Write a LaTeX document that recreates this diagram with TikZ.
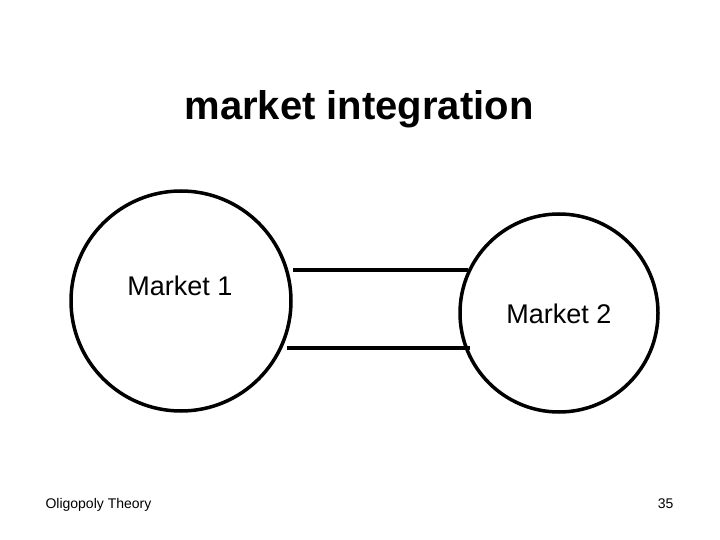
\documentclass[tikz,border=0pt]{standalone}
\usepackage{fontspec}
\setmainfont{Liberation Sans}
\begin{document}
\begin{tikzpicture}[x=1pt, y=-1pt,
    market/.style={draw, circle, line width=3.5pt, inner sep=0pt},
    link/.style={line width=3.5pt},
    every node/.style={font=\fontsize{27}{32}\selectfont}]
      % page frame
      \useasboundingbox (0,0) rectangle (720,540);

      % title
      \node[anchor=base, font=\fontsize{40}{48}\selectfont\bfseries] (title) at (359,120) {market integration};

      % the two markets
      \node[market, minimum size=220pt] (m1) at (181,301) {};
      \node[market, minimum size=198pt] (m2) at (559,313) {};
      \node[anchor=base] (m1txt) at (180,295) {Market 1};
      \node[anchor=base] (m2txt) at (559,323) {Market 2};

      % links between them
      \draw[link] ([xshift=5pt]m1.16) -- (m2.154 |- m1.16);
      \draw[link] ([xshift=5pt]m1.-25) -- ([xshift=5pt]m2.201 |- m1.-25);

      % footer
      \node[anchor=base west, font=\fontsize{14}{17}\selectfont] (foot) at (42,508) {Oligopoly Theory};
      \node[anchor=base east, font=\fontsize{14}{17}\selectfont] (page) at (677,508) {35};
\end{tikzpicture}
\end{document}
